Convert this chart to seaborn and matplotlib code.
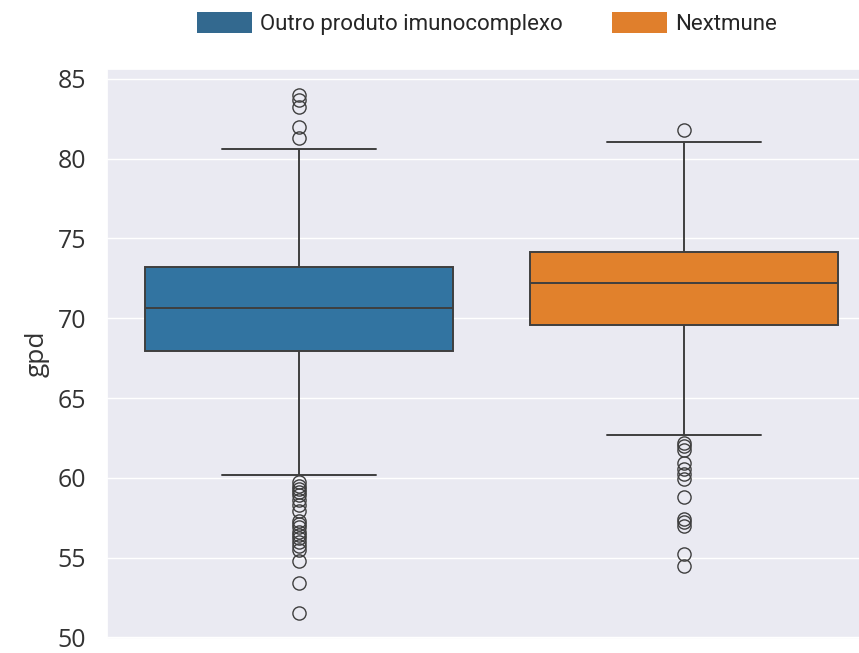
import matplotlib
matplotlib.use("Agg")
import matplotlib.pyplot as plt
from matplotlib.patches import Patch
import seaborn as sns
import pandas as pd

# summary values
groups = ["Outro produto imunocomplexo", "Nextmune"]
whisker_low = [60.2, 62.7]
q1 = [67.96, 69.55]
median = [70.64, 72.23]
q3 = [73.19, 74.15]
whisker_high = [80.63, 81.05]
outliers_low = [
    [59.73, 59.5, 59.3, 59.1, 58.9, 58.6, 58.3, 57.9, 57.3, 57.1,
     56.9, 56.6, 56.4, 56.2, 55.95, 55.7, 55.45, 54.8, 53.4, 51.5],
    [62.2, 62.0, 61.75, 60.9, 60.55, 60.25, 59.95, 58.8, 57.45, 57.25,
     57.0, 55.25, 54.5],
]
outliers_high = [
    [84.0, 83.65, 83.25, 82.0, 81.3],
    [81.8],
]
legend_colors = ["#33698f", "#e07f2c"]

# expand the summary into a sample whose quartiles/whiskers match
rows = []
for i, g in enumerate(groups):
    vals = (outliers_low[i] + [whisker_low[i]] + [q1[i]] * 200 + [median[i]] * 200
            + [q3[i]] * 200 + [whisker_high[i]] + outliers_high[i])
    rows += [(g, v) for v in vals]
df = pd.DataFrame(rows, columns=["produto", "gpd"])

sns.set_theme(style="darkgrid")
plt.rcParams["font.family"] = ["Open Sans", "Noto Sans", "DejaVu Sans"]

fig = plt.figure(figsize=(8.59, 6.53), dpi=100)
ax = fig.add_axes([107 / 859, 14 / 653, (876.5 - 107) / 859, 570 / 653])

sns.boxplot(data=df, y="gpd", hue="produto", hue_order=groups, gap=0.2,
            palette="tab10", fliersize=9.5, linewidth=1.4, legend=False, ax=ax)

ax.set_xlim(-0.4, 0.4)
ax.set_ylim(49.9, 85.62)
ax.set_xlabel("")
ax.set_ylabel("gpd", fontsize=19, color="#333333", labelpad=6)
ax.tick_params(axis="y", labelsize=18, labelcolor="#333333", pad=9)
ax.set_xticks([])

handles = [Patch(facecolor=c, edgecolor="none") for c in legend_colors]
fig.legend(handles, groups, loc="upper center", bbox_to_anchor=(487 / 859, 1.012),
           ncol=2, frameon=False, handlelength=2.5, handleheight=1.05,
           handletextpad=0.35, columnspacing=2.2,
           prop={"family": ["Roboto", "Noto Sans"], "size": 16})

fig.savefig("out.png", dpi=100)
